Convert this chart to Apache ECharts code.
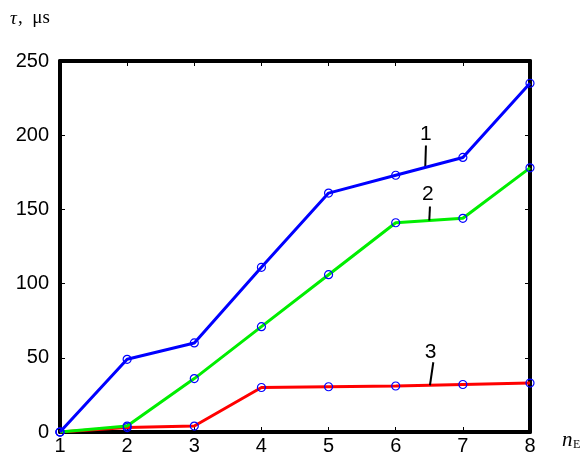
<!DOCTYPE html>
<html>
<head>
<meta charset="utf-8">
<script src="https://cdn.jsdelivr.net/npm/echarts@6/dist/echarts.min.js"></script>
<style>html,body{margin:0;padding:0;background:#fff}#c{width:584px;height:456px}</style>
</head>
<body>
<div id="c"></div>
<script>
const categories = [1, 2, 3, 4, 5, 6, 7, 8];
const series1 = [0, 49, 60, 111, 161, 173, 185, 235];
const series2 = [0, 4, 36, 71, 106, 141, 144, 178];
const series3 = [0, 3, 4, 30, 30.5, 31, 32, 33];
const yTicks = [0, 50, 100, 150, 200, 250];
// annotation labels: [label, text x, text y, leader from (x,y) to (x,y)] in data units
const annotations = [
  ['1', 6.45, 201, 6.45, 193, 6.44, 178.5],
  ['2', 6.48, 160, 6.51, 152, 6.50, 142.5],
  ['3', 6.52, 54, 6.56, 47, 6.51, 31.5]
];

const chart = echarts.init(document.getElementById('c'));
const lineW = 3;
const frame = {show: true, onZero: false, lineStyle: {color: '#000', width: 4}};
const tick = {show: true, inside: true, length: 5, lineStyle: {color: '#000', width: 1}};
const sans = 'Liberation Sans, Arial, sans-serif';
const serif = 'Liberation Serif, DejaVu Serif, serif';
function mk(name, data, color, z) {
  return {
    name: name, type: 'line', data: data.map((v, i) => [categories[i], v]),
    symbol: 'circle', symbolSize: 8, z: z,
    lineStyle: {color: color, width: lineW},
    itemStyle: {color: 'rgba(0,0,0,0)', borderColor: '#0000ff', borderWidth: 1.2},
    emphasis: {disabled: true}, animation: false
  };
}
const annoSeries = {
  type: 'scatter', data: [], silent: true, animation: false, z: 20,
  markLine: {
    silent: true, symbol: 'none', animation: false,
    lineStyle: {color: '#000', width: 2, type: 'solid'},
    label: {show: false},
    data: annotations.map(a => [{coord: [a[3], a[4]]}, {coord: [a[5], a[6]]}])
  },
  markPoint: {
    silent: true, symbol: 'circle', symbolSize: 1, animation: false,
    itemStyle: {color: 'rgba(0,0,0,0)'},
    label: {show: true, position: 'inside', color: '#000', fontSize: 21,
            fontFamily: sans, formatter: p => p.name},
    data: annotations.map(a => ({name: a[0], coord: [a[1], a[2]]}))
  }
};
chart.setOption({
  backgroundColor: '#fff',
  animation: false,
  grid: {left: 60, right: 54, top: 61, bottom: 23, show: false},
  xAxis: [{
    type: 'value', min: 1, max: 8, interval: 1, position: 'bottom',
    axisLine: frame, axisTick: tick, splitLine: {show: false},
    axisLabel: {color: '#000', fontSize: 20, margin: 4, fontFamily: sans}
  }, {
    type: 'value', min: 1, max: 8, interval: 1, position: 'top',
    axisLine: frame, axisTick: tick, splitLine: {show: false}, axisLabel: {show: false}
  }],
  yAxis: [{
    type: 'value', min: 0, max: 250, interval: 50, position: 'left',
    axisLine: frame, axisTick: tick, splitLine: {show: false},
    axisLabel: {color: '#000', fontSize: 20, margin: 11, fontFamily: sans,
      formatter: v => yTicks.includes(v) ? String(v) : ''}
  }, {
    type: 'value', min: 0, max: 250, interval: 50, position: 'right',
    axisLine: frame, axisTick: tick, splitLine: {show: false}, axisLabel: {show: false}
  }],
  graphic: [{
    type: 'text', left: 10, top: 9,
    style: {text: 'τ', font: 'italic 19px ' + serif, fill: '#000'}
  }, {
    type: 'text', left: 18, top: 9,
    style: {text: ',  μs', font: '19px ' + serif, fill: '#000'}
  }, {
    type: 'text', left: 562, top: 430,
    style: {text: 'n', font: 'italic 21px ' + serif, fill: '#000'}
  }, {
    type: 'text', left: 573, top: 439,
    style: {text: 'E', font: '12px ' + serif, fill: '#000'}
  }],
  series: [
    mk('3', series3, '#ff0000', 3),
    mk('2', series2, '#00ee00', 4),
    mk('1', series1, '#0000ff', 5),
    annoSeries
  ]
});
</script>
</body>
</html>
